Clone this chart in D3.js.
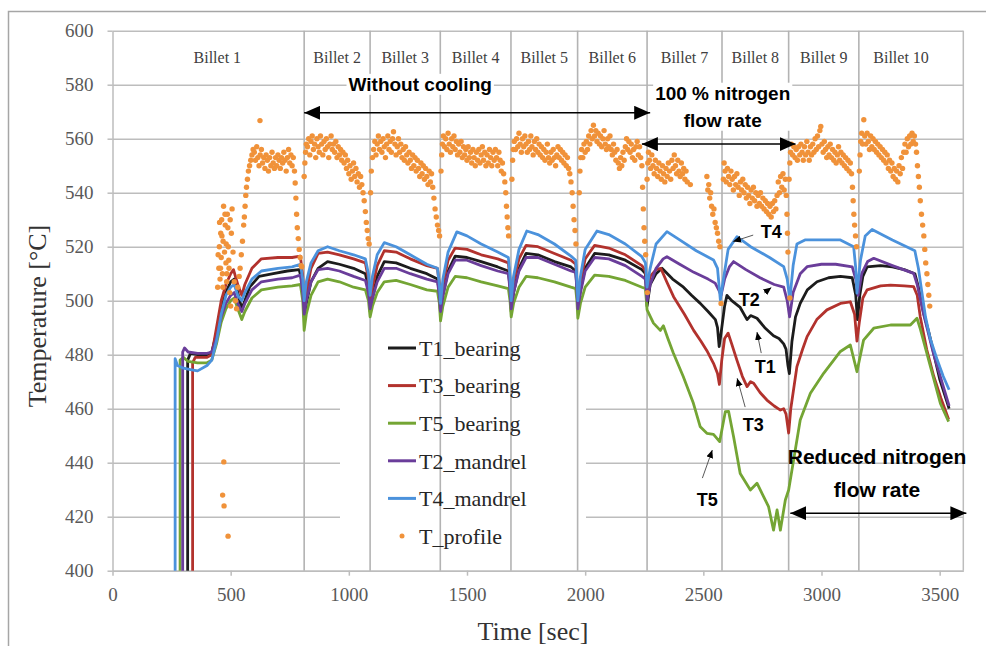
<!DOCTYPE html>
<html>
<head>
<meta charset="utf-8">
<script src="https://d3js.org/d3.v7.min.js"></script>
<style>
  body { margin: 0; background: #fff; }
  svg { display: block; }
</style>
</head>
<body>
<div id="chart"></div>
<script>
// ---- data (time [sec], temperature [°C]) ----
const billetNames = ['Billet 1', 'Billet 2', 'Billet 3', 'Billet 4', 'Billet 5', 'Billet 6', 'Billet 7', 'Billet 8', 'Billet 9', 'Billet 10'];
const billetBounds = [811, 1090, 1387, 1686, 1968, 2262, 2579, 2861, 3158];
const xTicks = [0, 500, 1000, 1500, 2000, 2500, 3000, 3500];
const yTicks = [400, 420, 440, 460, 480, 500, 520, 540, 560, 580, 600];

const t1Bearing = [[318,380],[318,478],[330,480.5],[360,480],[400,480],[420,481],[440,488],[460,497],[480,503],[500,507],[515,508],[530,503],[547,497],[560,500],[580,505],[620,509],[680,510],[740,511],[790,511.5],[805,506],
  [811,494],[820,499],[840,507],[870,512],[910,514.5],[960,513.5],[1020,512],[1070,510],[1083,505],[1090,496],[1100,501],[1120,509],[1150,514.5],[1200,514],[1260,512],[1330,510],[1375,508],[1383,503],[1388,495],[1398,502],[1420,511],[1450,516.5],[1500,516],[1560,514.5],[1630,512.5],[1675,511],[1682,505],[1687,496],[1697,503],[1720,512],[1750,517.5],[1800,517],[1870,514.5],[1940,512.5],[1960,511],[1965,505],[1969,497],[1980,504],[2000,512],[2040,517.5],[2100,517],[2170,515],[2240,511.5],[2255,510],[2262,498],
  [2275,506],[2300,510],[2325,512],[2370,508],[2416,505],[2450,502],[2487,499],[2520,496],[2551,493],[2560,490],[2567,483],[2575,488],[2590,498],[2600,502],[2620,500],[2656,497.5],[2685,493],[2700,494.5],[2727,493.5],[2760,490],[2797,487],[2820,486],[2840,484],[2850,482],[2858,476],[2864,473],[2875,485],[2890,494],[2910,499],[2940,504],[2981,507],[3030,508.5],[3080,509],[3130,508.5],[3145,502],[3152,493],[3162,502],[3175,509],[3193,512.5],[3250,513],[3300,512.5],[3350,511.5],[3395,510],[3410,505],[3432,495.5],[3455,488],[3475,480.5],[3500,471],[3540,460]];

const t3Bearing = [[339,380],[339,477],[350,479],[400,479],[420,480],[440,490],[460,500],[480,506],[500,510],[512,511.5],[530,506],[547,502],[560,506],[590,512],[630,515.5],[700,516],[760,516],[795,516.5],[805,509],
  [811,497],[820,503],[840,512],[870,517.5],[910,518],[960,517],[1020,515.5],[1070,514],[1083,508],[1090,499],[1100,505],[1120,513],[1150,518.5],[1200,518],[1260,515.5],[1330,513],[1375,512],[1383,506],[1388,499],[1398,506],[1420,515],[1450,519.5],[1500,519],[1560,517],[1630,515.5],[1675,514],[1682,508],[1687,499],[1697,507],[1720,515.5],[1750,520.5],[1800,520],[1870,517.5],[1940,515],[1960,513.5],[1965,507],[1969,499],[1980,507],[2000,515.5],[2040,520.5],[2100,519.5],[2170,517],[2240,513],[2255,511],[2262,504],
  [2275,509],[2300,511.5],[2320,512],[2345,507],[2374,501.5],[2420,495],[2459,489],[2490,485],[2515,481.5],[2543,476.8],[2560,473],[2568,469],[2578,478],[2590,486],[2605,488],[2620,484],[2642,478],[2665,472],[2685,468.2],[2700,470],[2713,469.4],[2740,466],[2769,463.2],[2800,461],[2826,459.5],[2840,460],[2850,458],[2861,451],[2870,460],[2896,475.6],[2920,482],[2939,486.7],[2980,493],[3023,496.6],[3080,499],[3122,499.6],[3140,495],[3150,485],[3160,492],[3175,501],[3193,504],[3250,505.5],[3292,505.8],[3350,505.5],[3390,505.2],[3405,502],[3418,494],[3445,482],[3475,472],[3505,464],[3538,456]];

const t5Bearing = [[286,380],[286,478],[300,479],[320,477.5],[360,477],[400,477],[420,478],[440,484],[460,492],[480,497],[500,500],[515,501],[530,497],[547,493],[560,496],[590,501],[630,504],[700,505],[760,505.5],[795,506],[805,500],
  [811,489],[820,495],[840,502],[870,507],[910,508],[960,507],[1020,505],[1070,504],[1083,500],[1090,494],[1100,498],[1120,503],[1150,507],[1200,507.5],[1260,506],[1330,504],[1375,503.5],[1383,499],[1388,492.5],[1398,498],[1420,505],[1450,509],[1500,508.5],[1560,507],[1630,505.5],[1675,504.5],[1682,500],[1687,494],[1697,499],[1720,505],[1750,509],[1800,508.5],[1870,507],[1940,505],[1960,504.5],[1965,500],[1969,493.5],[1980,499],[2000,505],[2040,509.5],[2100,509],[2170,507.5],[2240,505],[2255,504.5],
  [2262,496.6],[2289,491.7],[2318,489],[2331,490.7],[2350,486],[2373,480.6],[2415,471.9],[2458,462],[2487,453.3],[2515,450.9],[2543,450.5],[2569,447.8],[2593,458.9],[2607,459],[2628,449.6],[2656,436],[2699,429.9],[2727,432.4],[2755,427.4],[2776,423.7],[2797,415],[2812,422.5],[2826,415],[2847,426.2],[2861,429.9],[2882,441],[2910,455.8],[2953,465.7],[3009,473.1],[3080,481.2],[3122,483.6],[3150,473.7],[3178,485.4],[3221,489.8],[3292,491],[3376,491],[3404,493.5],[3418,489.6],[3461,475.6],[3503,462],[3538,455.2]];

const t2Mandrel = [[297,380],[297,481],[305,482.5],[320,481],[360,480.5],[400,480.5],[420,481],[440,486],[460,494],[480,499],[500,502],[515,503],[530,499],[547,496],[560,499],[590,504],[630,507],[700,508],[760,508.5],[795,509.5],[805,503],
  [811,495],[820,500],[840,507],[870,511.5],[910,512],[960,511],[1020,509],[1070,507.5],[1083,503],[1090,497],[1100,501],[1120,507],[1150,512],[1200,512],[1260,510],[1330,508],[1375,507],[1383,502],[1388,496],[1398,502],[1420,510],[1450,515],[1500,515],[1560,513],[1630,511],[1675,510],[1682,504],[1687,497],[1697,503],[1720,511],[1750,516],[1800,516],[1870,513.5],[1940,511],[1960,510.5],[1965,504],[1969,497],[1980,503],[2000,511],[2040,516],[2100,515.5],[2170,513],[2240,509],[2255,508],[2262,500],
  [2275,506],[2300,512],[2330,515.5],[2346,516.3],[2400,513.5],[2460,510.5],[2520,508],[2550,506.5],[2565,504],[2575,502],[2590,508],[2610,512.5],[2628,514.5],[2680,511.5],[2740,508.5],[2800,506],[2840,505],[2855,500],[2865,494],[2880,503],[2910,510],[2939,512.6],[3000,513.5],[3060,513.5],[3130,512.5],[3145,508],[3155,502],[3170,510],[3195,514.5],[3221,515.7],[3300,513],[3390,510.1],[3405,506],[3432,495],[3475,480],[3540,461]];

const t4Mandrel = [[265,380],[265,478.5],[275,476],[300,475],[330,474.5],[360,474],[400,476],[420,478],[440,485],[460,495],[480,502],[500,505],[515,506],[530,502],[547,500],[560,503],[590,508],[630,511],[700,512],[760,512.5],[795,513.5],[805,508],
  [811,500],[820,507],[840,514],[870,518.5],[910,520],[960,518.5],[1020,517],[1070,515.5],[1083,510],[1090,502],[1100,509],[1120,517],[1150,521.5],[1200,520],[1260,517],[1330,513.5],[1375,512],[1383,506],[1388,499],[1398,508],[1420,518],[1457,525.5],[1500,524],[1560,521],[1630,518],[1675,516],[1682,509],[1687,500],[1697,509],[1720,519],[1753,525.8],[1800,524.5],[1870,521],[1940,516.5],[1960,515],[1965,508],[1969,500],[1980,509],[2000,519],[2050,525.8],[2100,524.5],[2170,521],[2240,516.3],[2255,514],[2262,505],
  [2275,512],[2300,521],[2346,525.6],[2400,522.5],[2470,518.5],[2543,515.1],[2560,512],[2572,500.3],[2585,508],[2605,519],[2642,523.7],[2700,520],[2780,516],[2840,512.6],[2855,508],[2866,500.3],[2880,513],[2896,521],[2930,522.5],[3000,522.5],[3080,522.5],[3136,520],[3145,512],[3150,502.8],[3165,515],[3185,524],[3214,526.4],[3300,522.5],[3395,518.5],[3410,512],[3425,503],[3440,494],[3460,486],[3490,478],[3515,472],[3540,467]];

// T_profile scatter, one array per billet
const profileB1 = [[445,505],[447,517],[450,512],[452,520],[453,529],[455,508],[457,512],[458,525],[460,516],[462,530],[463,524],[465,510],[466,428],[467,505],[468,522],[470,535],[471,440.3],[472,424],[474,518],[476,532],[477,528],[480,514],[481,521],[483,507],[484,510],[486,532],[488,527],[489,412.8],[490,520],[492,515],[493,512],[496,503],[498,530],[500,498],[503,525],[506,534],[510,518],[515,507],[520,500],[525,497],
  [530,505],[536,509],[540,512],[545,517],[550,522],[555,528],[558,531],[561,535],[564,539],[567,542],[571,545],[575,548],[580,550],[585,552],[590,554],[595,556],
  [600,555],[605,552],[610,557],[615,553],[620,550],[624,566.7],[625,554],[630,556],[635,551],[640,553],[645,549],[650,554],[655,552],[660,548],[665,553],[670,550],[675,555],[680,551],[685,549],[690,553],[695,550],[700,554],[705,552],[710,549],[715,553],[720,551],[725,555],[730,552],[735,548],[740,553],[745,556],[750,551],[755,554],[760,550],[765,553],[770,548],
  [773,543.6],[776,538],[779,532],[782,527],[786,523],[790,519],[794,516],[798,513],[801,512.6]];
const profileB2 = [[811,546],[814,551],[817,555],[820,558],[825,557],[830,560],[835,554],[840,559],[845,561],[850,556],[855,558],[860,553],[865,560],[870,557],[875,555],[880,561],[885,558],[890,554],[895,559],[900,556],[905,560],[910,557],[915,553],[920,558],[925,561],[930,556],[935,558],[940,555],[945,559],[950,553],[955,557],[960,554],[965,556],[970,552],[975,555],[980,551],[985,554],[990,549],[995,552],[1000,547],[1005,550],[1010,545],[1015,548],[1020,551],[1025,546],[1030,549],[1035,544],[1040,547],[1045,542],[1050,546],[1055,543],[1060,540],[1065,537],[1070,533],[1074,529],[1078,526],[1082,523],[1086,521]];
const profileB3 = [[1092,540],[1095,548],[1100,553],[1105,556],[1110,559],[1115,554],[1120,558],[1125,561],[1130,556],[1135,559],[1140,555],[1145,560],[1150,557],[1155,553],[1160,558],[1165,561],[1170,556],[1175,559],[1180,555],[1185,560],[1189,562.6],[1195,558],[1200,554],[1205,557],[1210,560],[1215,555],[1220,558],[1225,553],[1230,556],[1235,552],[1240,557],[1245,554],[1250,551],[1255,555],[1260,552],[1265,549],[1270,554],[1275,550],[1280,553],[1285,548],[1290,552],[1295,549],[1300,546],[1305,551],[1310,547],[1315,550],[1320,545],[1325,549],[1330,546],[1335,543],[1340,548],[1345,544],[1350,547],[1355,542],[1360,538],[1365,534],[1370,531],[1375,528],[1380,526],[1384,524]];
const profileB4 = [[1390,548],[1393,554],[1396,558],[1400,561],[1405,557],[1410,560],[1415,556],[1420,562],[1425,558],[1430,555],[1435,560],[1440,557],[1445,561],[1450,556],[1455,559],[1460,554],[1465,558],[1470,555],[1475,559],[1480,553],[1485,557],[1490,554],[1495,556],[1500,552],[1505,557],[1510,553],[1515,555],[1520,551],[1525,556],[1530,553],[1535,550],[1540,555],[1545,552],[1550,556],[1555,551],[1560,554],[1565,557],[1570,552],[1575,555],[1580,550],[1585,554],[1590,551],[1595,556],[1600,553],[1605,550],[1610,555],[1615,552],[1620,556],[1625,553],[1630,550],[1635,555],[1640,552],[1645,548],[1650,551],[1655,547],[1660,544],[1664,540],[1667,535],[1670,531],[1673,527],[1676,524]];
const profileB5 = [[1690,545],[1693,552],[1696,556],[1700,559],[1705,556],[1710,560],[1715,557],[1720,562],[1725,558],[1730,555],[1735,560],[1740,557],[1745,561],[1750,558],[1755,555],[1760,559],[1765,556],[1770,561],[1775,557],[1780,554],[1785,559],[1790,556],[1795,560],[1800,555],[1805,558],[1810,554],[1815,557],[1820,553],[1825,556],[1830,552],[1835,555],[1840,558],[1845,553],[1850,551],[1855,555],[1860,552],[1865,556],[1870,553],[1875,550],[1880,554],[1885,557],[1890,553],[1895,556],[1900,552],[1905,555],[1910,551],[1915,554],[1920,550],[1925,553],[1930,549],[1935,547],[1940,544],[1945,540],[1949,535],[1953,530],[1957,526],[1961,521]];
const profileB6 = [[1975,540],[1978,548],[1981,553],[1985,556],[1990,553],[1995,558],[2000,555],[2005,559],[2010,556],[2015,561],[2020,558],[2025,563],[2030,560],[2035,565],[2040,561],[2045,563],[2050,559],[2055,562],[2060,558],[2065,561],[2070,557],[2075,560],[2080,563],[2085,558],[2090,556],[2095,560],[2100,557],[2105,561],[2110,556],[2115,554],[2120,558],[2125,555],[2130,552],[2135,556],[2140,551],[2145,549],[2150,553],[2155,550],[2160,555],[2165,552],[2170,557],[2175,560],[2180,556],[2185,559],[2190,555],[2195,558],[2200,553],[2205,556],[2210,552],[2215,557],[2220,559],[2225,554],[2230,557],[2235,553],[2240,550],[2243,542],[2246,534],[2249,527],[2252,522],[2256,517],[2263,503]];
const profileB7 = [[2262,545],[2265,551],[2268,555],[2272,552],[2277,549],[2282,554],[2287,550],[2292,547],[2297,552],[2302,549],[2307,546],[2312,551],[2317,548],[2322,545],[2327,550],[2332,547],[2337,544],[2342,549],[2347,546],[2352,551],[2357,548],[2362,545],[2367,552],[2372,549],[2377,554],[2382,550],[2387,547],[2392,552],[2397,548],[2402,546],[2407,551],[2412,547],[2417,549],[2422,545],[2427,548],[2432,544],[2445,543],
  [2515,546],[2519,541],[2523,543],[2527,538],[2531,540],[2535,535],[2540,532],[2545,534],[2550,529],[2555,527],[2560,525],[2565,522],[2570,520],[2575,499]];
const profileB8 = [[2585,545],[2588,551],[2592,548],[2597,544],[2602,549],[2607,546],[2612,543],[2617,548],[2622,545],[2627,541],[2632,546],[2637,543],[2642,547],[2647,542],[2652,539],[2657,544],[2662,541],[2667,545],[2672,540],[2677,543],[2682,538],[2687,542],[2692,539],[2697,536],[2702,541],[2707,538],[2712,542],[2717,537],[2722,540],[2727,535],[2732,539],[2737,536],[2742,540],[2747,535],[2752,538],[2757,534],[2762,537],[2767,533],[2772,536],[2777,532],[2782,535],[2787,531],[2792,536],[2797,533],[2802,537],[2807,534],[2812,539],[2817,544],[2822,540],[2827,546],[2832,542],[2837,547],[2842,541],[2847,545],[2851,539],[2854,532],[2856,525],[2858,518],[2866,501]];
const profileB9 = [[2863,545],[2866,551],[2869,555],[2873,558],[2878,554],[2883,557],[2888,553],[2893,556],[2898,552],[2903,557],[2908,554],[2913,558],[2918,555],[2923,552],[2928,557],[2933,554],[2938,559],[2943,555],[2948,552],[2953,557],[2958,554],[2963,558],[2968,555],[2973,560],[2978,556],[2983,561],[2988,557],[2993,563],[2997,564.5],[3002,558],[3007,555],[3012,559],[3017,556],[3022,553],[3027,557],[3032,554],[3037,558],[3042,553],[3047,556],[3052,552],[3057,555],[3062,551],[3067,554],[3072,557],[3077,552],[3082,555],[3087,551],[3092,554],[3097,550],[3102,553],[3107,549],[3112,552],[3117,548],[3122,551],[3127,547],[3131,542],[3134,537],[3137,532],[3140,528],[3144,524],[3148,520]];
const profileB10 = [[3160,548],[3163,554],[3166,559],[3170,562],[3174,558],[3179,567],[3183,561],[3188,558],[3193,562],[3198,559],[3203,556],[3208,561],[3213,557],[3218,560],[3223,556],[3228,559],[3233,555],[3238,558],[3243,554],[3248,557],[3253,553],[3258,556],[3263,552],[3268,555],[3273,551],[3278,554],[3283,549],[3288,552],[3293,548],[3298,551],[3303,546],[3308,549],[3313,545],[3318,548],[3323,544],[3328,550],[3333,547],[3338,553],[3343,549],[3348,555],[3353,558],[3358,555],[3363,560],[3368,557],[3373,561],[3378,558],[3383,562],[3388,559],[3393,561],[3398,558],[3402,555],[3406,550],[3410,546],[3414,542],[3418,537],[3423,532],[3428,528],[3433,524],[3437,519],[3441,514],[3446,510],[3450,506],[3454,502],[3458,498]];
const tProfile = [].concat(profileB1, profileB2, profileB3, profileB4, profileB5, profileB6, profileB7, profileB8, profileB9, profileB10);

const lineSeries = [
  {name: 'T1_bearing', values: t1Bearing, color: '#1c1c1c'},
  {name: 'T3_bearing', values: t3Bearing, color: '#b2322d'},
  {name: 'T5_bearing', values: t5Bearing, color: '#74a534'},
  {name: 'T2_mandrel', values: t2Mandrel, color: '#6a3d9a'},
  {name: 'T4_mandrel', values: t4Mandrel, color: '#4b92dc'}
];
const profileColor = '#f0923a';

// ---- layout ----
const width = 986;
const height = 646;
const plotLeft = 112.5, plotTop = 30.7, plotRight = 963.3, plotBottom = 570.7;
const chartWidth = plotRight - plotLeft;
const chartHeight = plotBottom - plotTop;
const serif = '"Liberation Serif", "Times New Roman", serif';
const sans = '"Liberation Sans", Arial, sans-serif';
const gridColor = '#bdbdbd';

const svg = d3.select('#chart').append('svg')
  .attr('width', width)
  .attr('height', height);

// outer frame
svg.append('rect')
  .attr('x', 8.5).attr('y', 11.5)
  .attr('width', 1000).attr('height', 700)
  .attr('fill', 'none').attr('stroke', '#a6a6a6').attr('stroke-width', 1.5);

const defs = svg.append('defs');
defs.append('clipPath').attr('id', 'plotClip')
  .append('rect').attr('width', chartWidth).attr('height', chartHeight);
defs.append('marker').attr('id', 'bigHead')
  .attr('markerUnits', 'userSpaceOnUse')
  .attr('viewBox', '0 0 16 14').attr('refX', 16).attr('refY', 7)
  .attr('markerWidth', 16).attr('markerHeight', 14)
  .attr('orient', 'auto-start-reverse')
  .append('path').attr('d', 'M0,0 L16,7 L0,14 Z').attr('fill', '#000');
defs.append('marker').attr('id', 'smallHead')
  .attr('markerUnits', 'userSpaceOnUse')
  .attr('viewBox', '0 0 8 7').attr('refX', 8).attr('refY', 3.5)
  .attr('markerWidth', 8).attr('markerHeight', 7)
  .attr('orient', 'auto')
  .append('path').attr('d', 'M0,0 L8,3.5 L0,7 Z').attr('fill', '#000');

const x = d3.scaleLinear().domain([0, 3600]).range([0, chartWidth]);
const y = d3.scaleLinear().domain([400, 600]).range([chartHeight, 0]);

let g = svg.append('g').attr('transform', `translate(${plotLeft}, ${plotTop})`);

// horizontal gridlines
g.append('g')
  .call(d3.axisLeft(y).tickValues(yTicks).tickSize(-chartWidth).tickFormat(''))
  .call(a => a.select('.domain').remove())
  .call(a => a.selectAll('line').attr('stroke', gridColor).attr('stroke-width', 1.5));

// y-axis ticks + labels
g.append('g')
  .call(d3.axisLeft(y).tickValues(yTicks).tickSize(5).tickPadding(14).tickSizeOuter(0))
  .call(a => a.select('.domain').attr('stroke', gridColor).attr('stroke-width', 1.5))
  .call(a => a.selectAll('line').attr('stroke', gridColor).attr('stroke-width', 1.5))
  .call(a => a.selectAll('text').attr('font-family', serif).attr('font-size', 19).attr('fill', '#595959'));

// x-axis
g.append('g')
  .attr('transform', `translate(0, ${chartHeight})`)
  .call(d3.axisBottom(x).tickValues(xTicks).tickFormat(d3.format('d')).tickSize(5).tickPadding(12).tickSizeOuter(0))
  .call(a => a.select('.domain').attr('stroke', gridColor).attr('stroke-width', 1.5))
  .call(a => a.selectAll('line').attr('stroke', gridColor).attr('stroke-width', 1.5))
  .call(a => a.selectAll('text').attr('font-family', serif).attr('font-size', 19).attr('fill', '#595959'));

// right border
g.append('line')
  .attr('x1', chartWidth).attr('x2', chartWidth)
  .attr('y1', 0).attr('y2', chartHeight)
  .attr('stroke', gridColor).attr('stroke-width', 1.5);

// legend background (hides horizontal gridlines)
const legendX = 340 - plotLeft, legendY = 326 - plotTop;
g.append('rect')
  .attr('x', legendX).attr('y', legendY)
  .attr('width', 246).attr('height', 232)
  .attr('fill', '#fff');

// billet boundaries
g.selectAll('.billet-line')
  .data(billetBounds)
  .enter()
    .append('line')
      .attr('class', 'billet-line')
      .attr('x1', d => x(d)).attr('x2', d => x(d))
      .attr('y1', 0).attr('y2', chartHeight)
      .attr('stroke', '#b3b3b3').attr('stroke-width', 1.6);

// billet labels (first and last cell text sits a little inward)
const edges = [0].concat(billetBounds, [3600]);
g.selectAll('.billet-label')
  .data(billetNames)
  .enter()
    .append('text')
      .attr('class', 'billet-label')
      .attr('x', (d, i) => x((edges[i] + edges[i + 1]) / 2) + (i === 0 ? 9 : i === billetNames.length - 1 ? -10 : 0))
      .attr('y', y(590))
      .attr('dy', '0.35em')
      .attr('text-anchor', 'middle')
      .attr('font-family', serif)
      .attr('font-size', 16)
      .attr('fill', '#404040')
      .text(d => d);

// series lines
const plot = g.append('g').attr('clip-path', 'url(#plotClip)');
const line = d3.line().x(d => x(d[0])).y(d => y(d[1]));
lineSeries.forEach(s => {
  plot.append('path')
    .datum(s.values)
    .attr('d', line)
    .attr('fill', 'none')
    .attr('stroke', s.color)
    .attr('stroke-width', 2.8)
    .attr('stroke-linejoin', 'round');
});

plot.selectAll('.profile')
  .data(tProfile)
  .enter()
    .append('circle')
      .attr('class', 'profile')
      .attr('cx', d => x(d[0]))
      .attr('cy', d => y(d[1]))
      .attr('r', 2.7)
      .attr('fill', profileColor);

// legend
const legendRows = lineSeries.map(s => ({name: s.name, color: s.color, type: 'line'}))
  .concat([{name: 'T_profile', color: profileColor, type: 'dot'}]);
const legend = svg.append('g');
legendRows.forEach((r, i) => {
  const ly = 348 + i * 37.6;
  if (r.type === 'line') {
    legend.append('line')
      .attr('x1', 388).attr('x2', 416).attr('y1', ly).attr('y2', ly)
      .attr('stroke', r.color).attr('stroke-width', 3);
  } else {
    legend.append('circle').attr('cx', 402).attr('cy', ly).attr('r', 2.5).attr('fill', r.color);
  }
  legend.append('text')
    .attr('x', 419).attr('y', ly).attr('dy', '0.35em')
    .attr('font-family', serif).attr('font-size', 22).attr('fill', '#262626')
    .text(r.name);
});

// axis titles
svg.append('text')
  .attr('x', 533).attr('y', 631).attr('dy', '0.35em')
  .attr('text-anchor', 'middle')
  .attr('font-family', serif).attr('font-size', 26).attr('fill', '#333')
  .text('Time [sec]');
svg.append('text')
  .attr('transform', 'translate(37, 316) rotate(-90)')
  .attr('dy', '0.35em')
  .attr('text-anchor', 'middle')
  .attr('font-family', serif).attr('font-size', 26).attr('fill', '#333')
  .text('Temperature [°C]');

// annotations
const notes = g.append('g');
function noteText(lines, t, temps, size, boxed) {
  const grp = notes.append('g');
  const bg = grp.append('rect').attr('fill', '#fff');
  lines.forEach((txt, i) => {
    grp.append('text')
      .attr('x', x(t)).attr('y', y(temps[i])).attr('dy', '0.35em')
      .attr('text-anchor', 'middle')
      .attr('font-family', sans).attr('font-weight', 'bold')
      .attr('font-size', size).attr('fill', '#000')
      .text(txt);
  });
  if (boxed) {
    const bb = grp.node().getBBox();
    bg.attr('x', bb.x - 2).attr('y', bb.y).attr('width', bb.width + 4).attr('height', bb.height);
  } else {
    bg.remove();
  }
}
function doubleArrow(t0, t1, temp) {
  notes.append('line')
    .attr('x1', x(t0)).attr('x2', x(t1)).attr('y1', y(temp)).attr('y2', y(temp))
    .attr('stroke', '#000').attr('stroke-width', 1.5)
    .attr('marker-start', 'url(#bigHead)').attr('marker-end', 'url(#bigHead)');
}

noteText(['Without cooling'], 1302, [580.2], 19, true);
doubleArrow(811, 2275, 569.6);
noteText(['100 % nitrogen', 'flow rate'], 2582, [576.9, 566.9], 19, true);
doubleArrow(2240, 2890, 558);
noteText(['Reduced nitrogen', 'flow rate'], 3235, [442.2, 429.9], 21, false);
doubleArrow(2868, 3613, 421.3);

// sensor labels with pointer arrows: [label, text t, text T, from t, from T, to t, to T]
const sensorNotes = [
  ['T4', 2787, 525.4, 2711, 524.3, 2626, 521.9],
  ['T2', 2694, 500.3, 2758, 502.9, 2788, 504.9],
  ['T1', 2762, 475.5, 2745, 480.6, 2727, 488.4],
  ['T3', 2711, 454.0, 2677, 460.6, 2643, 471.3],
  ['T5', 2517, 426.4, 2496, 434.3, 2538, 444.7]
];
sensorNotes.forEach(n => {
  notes.append('line')
    .attr('x1', x(n[3])).attr('y1', y(n[4]))
    .attr('x2', x(n[5])).attr('y2', y(n[6]))
    .attr('stroke', '#595959').attr('stroke-width', 1)
    .attr('marker-end', 'url(#smallHead)');
  notes.append('text')
    .attr('x', x(n[1])).attr('y', y(n[2])).attr('dy', '0.35em')
    .attr('text-anchor', 'middle')
    .attr('font-family', sans).attr('font-weight', 'bold')
    .attr('font-size', 18).attr('fill', '#000')
    .text(n[0]);
});
</script>
</body>
</html>
